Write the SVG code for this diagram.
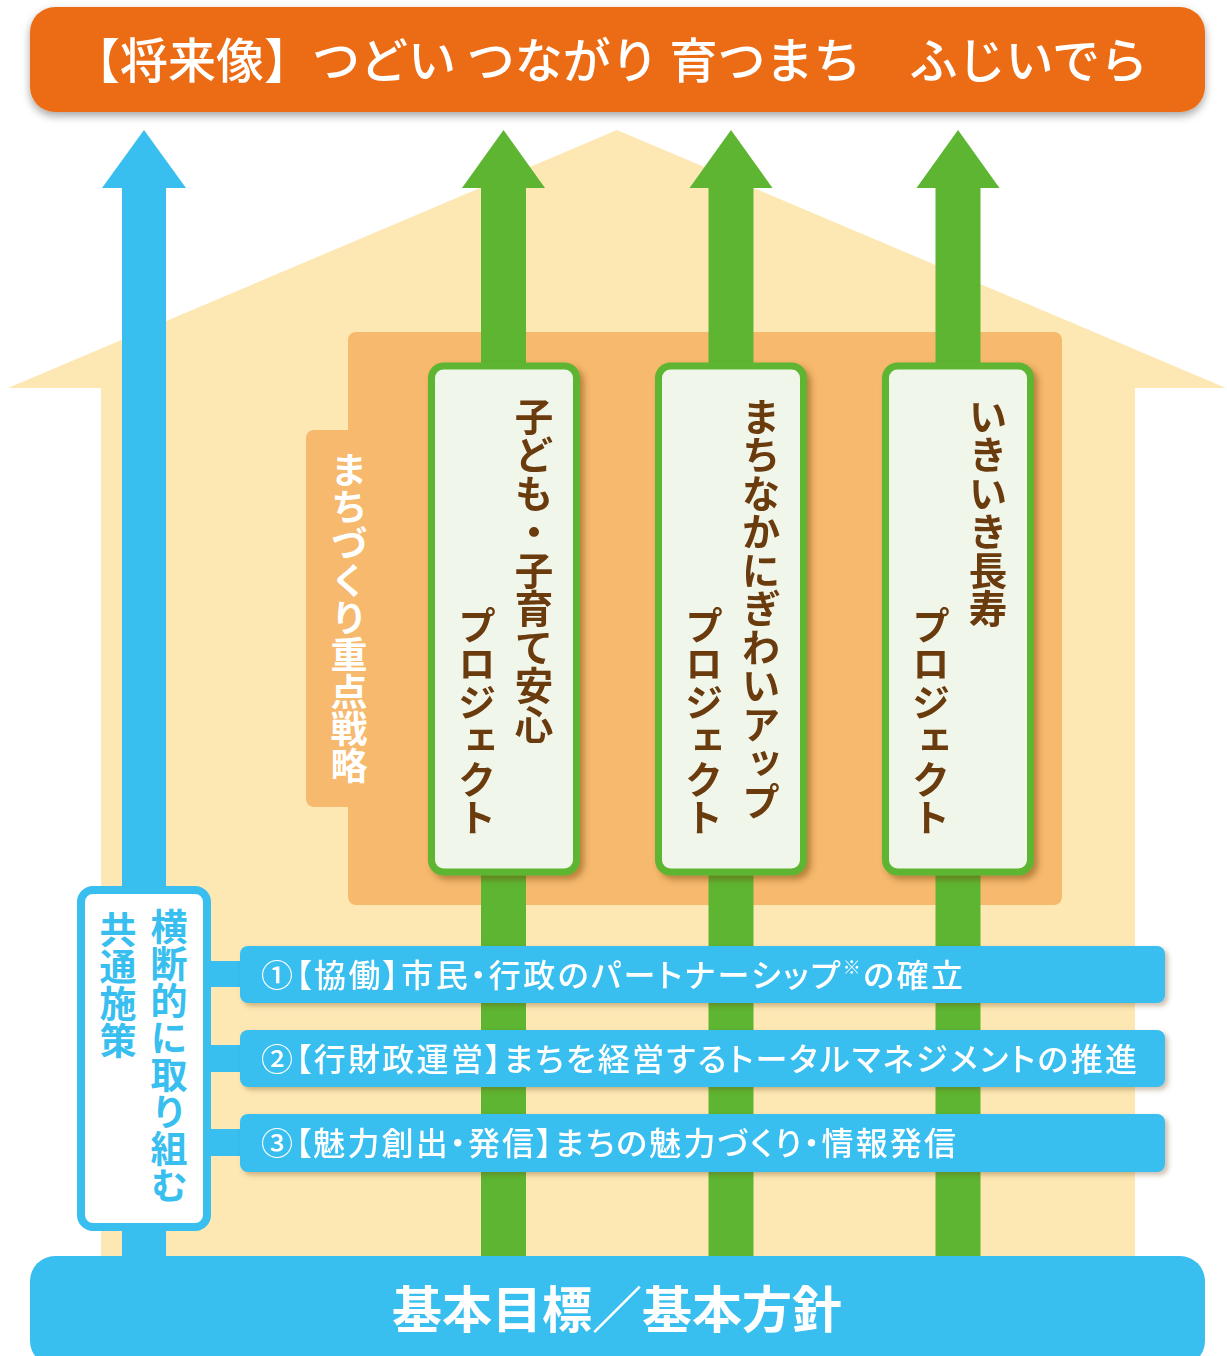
<svg xmlns="http://www.w3.org/2000/svg" width="1227" height="1356" viewBox="0 0 1227 1356">
<defs>
<filter id="shBanner" x="-5%" y="-20%" width="110%" height="150%">
<feDropShadow dx="0" dy="4" stdDeviation="4" flood-color="#000" flood-opacity="0.35"/>
</filter>
<filter id="shBar" x="-5%" y="-20%" width="110%" height="160%">
<feDropShadow dx="3" dy="3" stdDeviation="2.5" flood-color="#6b4a20" flood-opacity="0.35"/>
</filter>
<filter id="shBox" x="-10%" y="-5%" width="130%" height="115%">
<feDropShadow dx="4" dy="4" stdDeviation="3" flood-color="#6b3a0f" flood-opacity="0.45"/>
</filter>
<style>
text { font-family: "Noto Sans CJK JP", "Noto Sans CJK SC", sans-serif; }
.v { writing-mode: vertical-rl; }
.proj { font-size: 38.5px; font-weight: 700; fill: #6B3A0F; }
.strat { font-size: 37px; font-weight: 700; fill: #FFFFFF; }
.common { font-size: 37px; font-weight: 700; fill: #38BEEF; }
.bartxt { font-size: 32px; font-weight: 500; fill: #FFFFFF; font-feature-settings: "palt"; }
.green { fill: #5DB531; }
.blue { fill: #38BEEF; }
.pbox { fill: #F0F6EA; stroke: #5DB531; stroke-width: 7; }
.bar { fill: #38BEEF; }
</style>
</defs>

<!-- house -->
<polygon id="house" points="8,388 617,130 1226,388 1135,388 1135,1270 101,1270 101,388" fill="#FDE8B4"/>

<!-- strategy area -->
<g id="strategy">
<rect x="348" y="332" width="714" height="573" rx="8" fill="#F6B96D"/>
<rect x="306" y="430" width="60" height="377" rx="8" fill="#F6B96D"/>
<text class="v strat" x="349" y="451">まちづくり重点戦略</text>
</g>

<!-- connectors: arrows -->
<g id="connectors">
<rect class="green" x="481" y="187" width="45" height="1075"/>
<polygon class="green" points="462,188 503.5,130 545,188"/>
<rect class="green" x="708.5" y="187" width="45" height="1075"/>
<polygon class="green" points="689.5,188 731,130 772.5,188"/>
<rect class="green" x="935.5" y="187" width="45" height="1075"/>
<polygon class="green" points="916.5,188 958,130 999.5,188"/>
<rect class="blue" x="122" y="187" width="44" height="1075"/>
<polygon class="blue" points="102,188 144,130 186,188"/>
<rect class="blue" x="205" y="961" width="40" height="26"/>
<rect class="blue" x="205" y="1045" width="40" height="27"/>
<rect class="blue" x="205" y="1129" width="40" height="27"/>
</g>

<!-- project boxes -->
<g id="project1" filter="url(#shBox)">
<rect class="pbox" x="431.5" y="366" width="145" height="506" rx="12"/>
<text class="v proj" x="534" y="397">子ども・子育て安心</text>
<text class="v proj" x="477" y="606">プロジェクト</text>
</g>
<g id="project2" filter="url(#shBox)">
<rect class="pbox" x="658.5" y="366" width="145" height="506" rx="12"/>
<text class="v proj" x="761" y="397">まちなかにぎわいアップ</text>
<text class="v proj" x="704" y="606">プロジェクト</text>
</g>
<g id="project3" filter="url(#shBox)">
<rect class="pbox" x="885.5" y="366" width="145" height="506" rx="12"/>
<text class="v proj" x="988" y="397">いきいき長寿</text>
<text class="v proj" x="931" y="606">プロジェクト</text>
</g>

<!-- common measures bars -->
<g id="measure1" filter="url(#shBar)">
<rect class="bar" x="240" y="946" width="925" height="57" rx="8"/>
<text class="bartxt" x="261" y="987" textLength="702">①【協働】市民・行政のパートナーシップ<tspan font-size="18" dy="-13">※</tspan><tspan dy="13">の確立</tspan></text>
</g>
<g id="measure2" filter="url(#shBar)">
<rect class="bar" x="240" y="1030" width="925" height="57" rx="8"/>
<text class="bartxt" x="261" y="1071" textLength="876">②【行財政運営】まちを経営するトータルマネジメントの推進</text>
</g>
<g id="measure3" filter="url(#shBar)">
<rect class="bar" x="240" y="1114" width="925" height="58" rx="8"/>
<text class="bartxt" x="261" y="1155" textLength="695">③【魅力創出・発信】まちの魅力づくり・情報発信</text>
</g>

<!-- common measures label box -->
<g id="common">
<rect x="81" y="890" width="126" height="337" rx="12" fill="#FFFFFF" stroke="#38BEEF" stroke-width="8"/>
<text class="v common" x="169" y="908">横断的に取り組む</text>
<text class="v common" x="118" y="911">共通施策</text>
</g>

<!-- vision banner -->
<g id="vision" filter="url(#shBanner)">
<rect x="30" y="7" width="1175" height="105" rx="25" fill="#EC6C14"/>
<text x="610" y="78" text-anchor="middle" font-size="48" font-weight="500" fill="#FFFFFF">【将来像】つどい つながり 育つまち　ふじいでら</text>
</g>

<!-- base -->
<g id="base">
<rect x="30" y="1256" width="1175" height="110" rx="25" fill="#38BEEF"/>
<text x="617" y="1328" text-anchor="middle" font-size="50" font-weight="700" fill="#FFFFFF">基本目標／基本方針</text>
</g>
</svg>
